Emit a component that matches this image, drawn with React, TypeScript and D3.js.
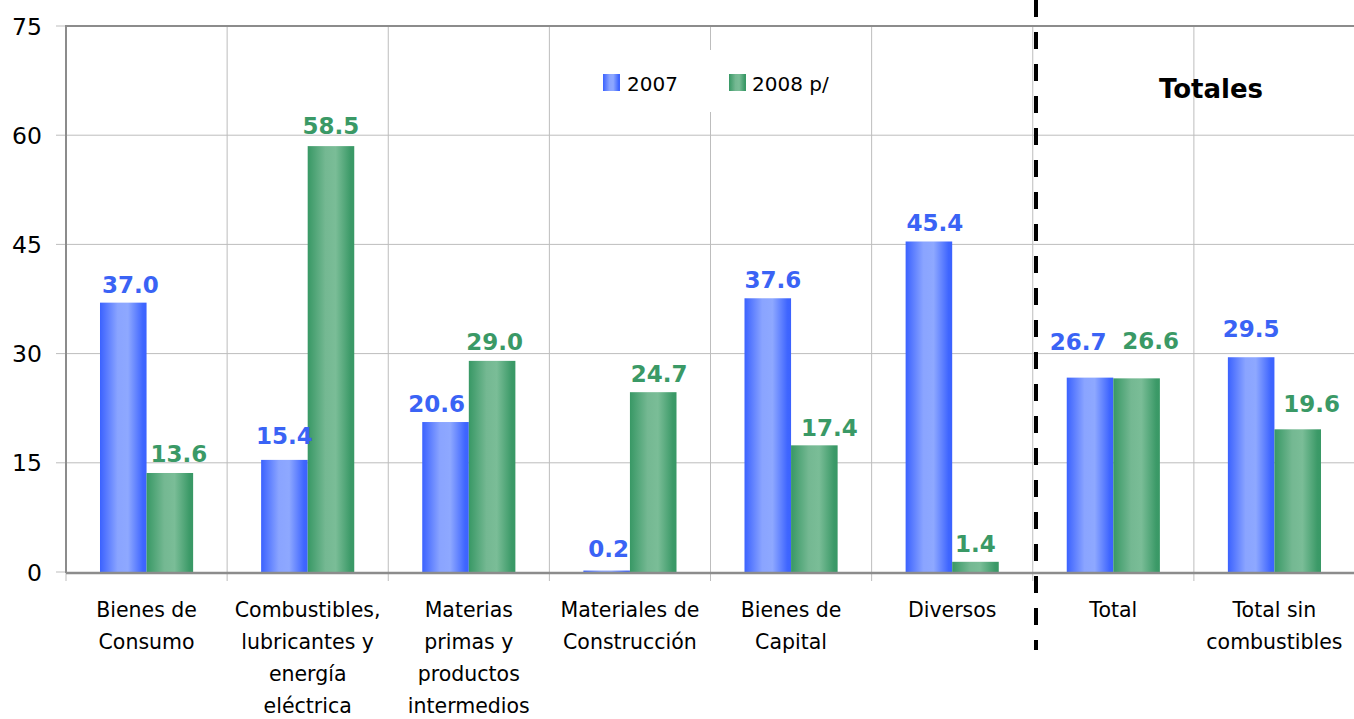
import React from "react";
import * as d3 from "d3";

// ---- data ----
const categories: string[][] = [
  ["Bienes de", "Consumo"],
  ["Combustibles,", "lubricantes y", "energía", "eléctrica"],
  ["Materias", "primas y", "productos", "intermedios"],
  ["Materiales de", "Construcción"],
  ["Bienes de", "Capital"],
  ["Diversos"],
  ["Total"],
  ["Total sin", "combustibles"],
];
const values2007: number[] = [37.0, 15.4, 20.6, 0.2, 37.6, 45.4, 26.7, 29.5];
const values2008: number[] = [13.6, 58.5, 29.0, 24.7, 17.4, 1.4, 26.6, 19.6];
const seriesNames: string[] = ["2007", "2008 p/"];
const yTicks: number[] = [0, 15, 30, 45, 60, 75];
const totalsTitle = "Totales";

// ---- label placement tweaks (style, not data) ----
const blueDx = [7, 0, -9, 2, 5, 6, -12, 0];
const greenDx = [9, 0, 2.5, 6, 15, 0, 14, 14];
const blueGap = [10, 16, 10, 14, 10, 10, 28, 20];
const greenGap = [11, 12, 11, 10, 9, 10, 29, 17];

const W = 1354;
const H = 719;
const left = 66;
const right = 1355;
const top = 26;
const bottom = 572;

const FONT = "'DejaVu Sans', Verdana, sans-serif";
const BLUE_TXT = "#3a63f5";
const GREEN_TXT = "#3a9966";

export default function App() {
  const idx = categories.map((_, i) => String(i));
  const x = d3.scaleBand<string>().domain(idx).range([left, right]).paddingInner(0).paddingOuter(0);
  const bw = x.bandwidth();
  const pad = bw * 0.211;
  const x1 = d3.scaleBand<string>().domain(["a", "b"]).range([pad, bw - pad]).padding(0);
  const y = d3.scaleLinear().domain([0, 75]).range([bottom, top]);

  const series = [
    { key: "a", vals: values2007, fill: "url(#gBlue)", txt: BLUE_TXT, dx: blueDx, gap: blueGap },
    { key: "b", vals: values2008, fill: "url(#gGreen)", txt: GREEN_TXT, dx: greenDx, gap: greenGap },
  ];

  const boundaries = d3.range(categories.length + 1).map((i) => left + i * bw);

  return (
    <div style={{ position: "fixed", left: 0, top: 0 }}>
      <svg width={W} height={H} style={{ display: "block", background: "#fff" }}>
        <defs>
          <linearGradient id="gBlue" x1="0" x2="1" y1="0" y2="0">
            <stop offset="0" stopColor="#3b62ff" />
            <stop offset="0.38" stopColor="#8aa4ff" />
            <stop offset="0.6" stopColor="#8ea8ff" />
            <stop offset="0.92" stopColor="#3f66ff" />
            <stop offset="1" stopColor="#3b62ff" />
          </linearGradient>
          <linearGradient id="gGreen" x1="0" x2="1" y1="0" y2="0">
            <stop offset="0" stopColor="#389865" />
            <stop offset="0.38" stopColor="#74b892" />
            <stop offset="0.6" stopColor="#7abd97" />
            <stop offset="0.92" stopColor="#3c9a68" />
            <stop offset="1" stopColor="#389865" />
          </linearGradient>
        </defs>

        {/* horizontal gridlines */}
        {yTicks.filter((t) => t !== 0 && t !== 75).map((t) => (
          <line key={"h" + t} x1={56} x2={right} y1={y(t)} y2={y(t)} stroke="#bdbdbd" strokeWidth={1} />
        ))}
        {[0, 75].map((t) => (
          <line key={"ht" + t} x1={56} x2={left} y1={y(t)} y2={y(t)} stroke="#bdbdbd" strokeWidth={1} />
        ))}
        {/* vertical gridlines */}
        {boundaries.slice(1).map((bx, i) => (
          <line key={"v" + i} x1={bx} x2={bx} y1={top} y2={bottom + 9} stroke="#bdbdbd" strokeWidth={1} />
        ))}
        <line x1={left} x2={left} y1={bottom} y2={bottom + 9} stroke="#bdbdbd" strokeWidth={1} />

        {/* legend */}
        <rect x={580} y={50} width={280} height={62} fill="#fff" />
        <rect x={603} y={74} width={17} height={17} fill="url(#gBlue)" />
        <text x={627} y={91} fontFamily={FONT} fontSize={20} fill="#000">{seriesNames[0]}</text>
        <rect x={729} y={74} width={17} height={17} fill="url(#gGreen)" />
        <text x={752} y={91} fontFamily={FONT} fontSize={20} fill="#000">{seriesNames[1]}</text>

        {/* bars */}
        {series.map((s) =>
          s.vals.map((v, i) => {
            const bx = (x(String(i)) as number) + (x1(s.key) as number);
            return (
              <rect key={s.key + i} x={bx} y={y(v)} width={x1.bandwidth()} height={y(0) - y(v)} fill={s.fill} />
            );
          })
        )}

        {/* axes */}
        <line x1={left} x2={right} y1={top} y2={top} stroke="#8c8c8c" strokeWidth={2} />
        <line x1={left} x2={left} y1={top - 1} y2={bottom + 1} stroke="#8c8c8c" strokeWidth={2} />
        <line x1={left} x2={right} y1={bottom + 1} y2={bottom + 1} stroke="#8c8c8c" strokeWidth={2.5} />

        {/* y tick labels */}
        {yTicks.map((t) => (
          <text key={"yl" + t} x={42} y={y(t) + 8.5} textAnchor="end" fontFamily={FONT} fontSize={23.5} fill="#000">
            {t}
          </text>
        ))}

        {/* data labels */}
        {series.map((s) =>
          s.vals.map((v, i) => {
            const cx = (x(String(i)) as number) + (x1(s.key) as number) + x1.bandwidth() / 2 + s.dx[i];
            return (
              <text
                key={"dl" + s.key + i}
                x={cx}
                y={y(v) - s.gap[i]}
                textAnchor="middle"
                fontFamily={FONT}
                fontWeight="bold"
                fontSize={23}
                fill={s.txt}
              >
                {v.toFixed(1)}
              </text>
            );
          })
        )}

        {/* category labels */}
        {categories.map((lines, i) => (
          <text key={"c" + i} textAnchor="middle" fontFamily={FONT} fontSize={20.5} fill="#000">
            {lines.map((ln, j) => (
              <tspan key={j} x={(x(String(i)) as number) + bw / 2} y={617 + j * 32}>
                {ln}
              </tspan>
            ))}
          </text>
        ))}

        {/* separator */}
        <line x1={1036} x2={1036} y1={0} y2={650} stroke="#000" strokeWidth={4} strokeDasharray="17 15" />

        {/* totals title */}
        <text x={1211} y={98} textAnchor="middle" fontFamily={FONT} fontWeight="bold" fontSize={26} fill="#000">
          {totalsTitle}
        </text>
      </svg>
    </div>
  );
}
